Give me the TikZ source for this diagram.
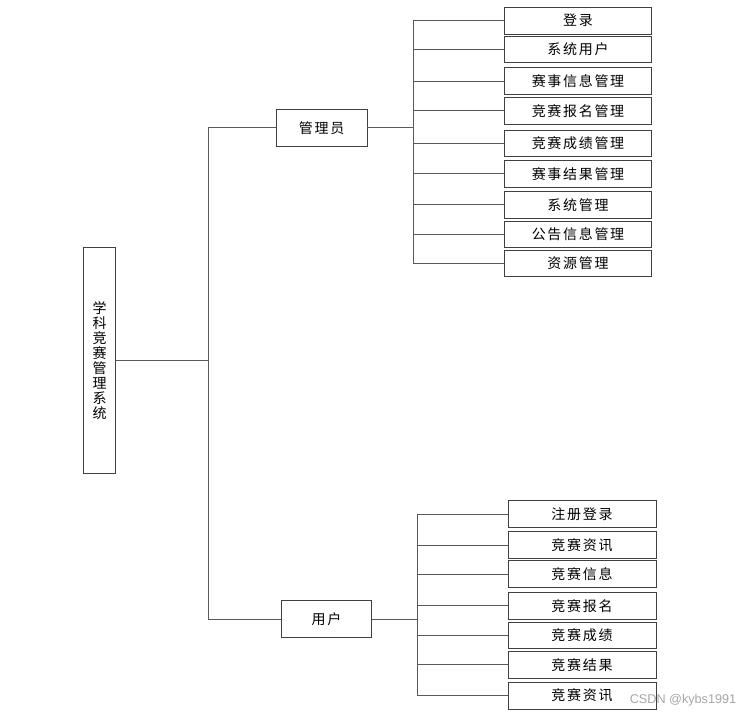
\documentclass[tikz,border=0pt]{standalone}
\usepackage{fontspec}
\setmainfont{Noto Sans CJK SC}[LetterSpace=12]
\newfontfamily\wmfont{Liberation Sans}
\usepackage{tikz}
\tikzset{
    box/.style={draw=black!75, line width=0.6pt, fill=white, inner sep=0pt,
                font=\fontsize{10.5}{12}\selectfont},
    leaf/.style={box, minimum width=110pt, minimum height=20pt},
    role/.style={box, minimum width=68pt, minimum height=28pt},
    link/.style={draw=black!65, line width=0.6pt},
}

\begin{document}
\begin{tikzpicture}[x=0.75pt, y=-0.75pt]
    \useasboundingbox (0,0) rectangle (753,715);

    % Root and roles
    \node[box, minimum width=24pt, minimum height=169pt, align=center,
          font=\fontsize{10.5}{11.2}\selectfont] (sys) at (99.5,360.5)
          {学\\科\\竞\\赛\\管\\理\\系\\统};
    \node[role] (admin) at (321.6,127.7) {管理员};
    \node[role] (user) at (326.5,619) {用户};

    % Buses
    \coordinate (sysbus) at (208,360.5);
    \coordinate (adminbus) at (413,127.7);
    \coordinate (userbus) at (417,619);

    \draw[link] (sys.east) -- (sysbus);
    \draw[link] (admin.west) -| (sysbus);
    \draw[link] (user.west) -| (sysbus);
    \draw[link] (admin.east) -- (adminbus);
    \draw[link] (user.east) -- (userbus);

    % Admin functions
    \foreach \y/\n/\t in {20.7/a1/登录, 49.5/a2/系统用户, 81/a3/赛事信息管理,
                          110.7/a4/竞赛报名管理, 143.3/a5/竞赛成绩管理,
                          173.7/a6/赛事结果管理, 204.8/a7/系统管理,
                          234.5/a8/公告信息管理, 263.3/a9/资源管理} {
        \node[leaf] (\n) at (578,\y) {\t};
        \draw[link] (\n.west) -| (adminbus);
    }

    % User functions
    \foreach \y/\n/\t in {514/u1/注册登录, 545/u2/竞赛资讯, 574/u3/竞赛信息,
                          605.7/u4/竞赛报名, 635.3/u5/竞赛成绩,
                          664.7/u6/竞赛结果, 695.7/u7/竞赛资讯} {
        \node[leaf, minimum width=111pt] (\n) at (582,\y) {\t};
        \draw[link] (\n.west) -| (userbus);
    }

    % Watermark
    \node[text=black!35, font=\wmfont\fontsize{9.5}{11}\selectfont] (mark) at (683,700)
        {CSDN @kybs1991};
\end{tikzpicture}
\end{document}
